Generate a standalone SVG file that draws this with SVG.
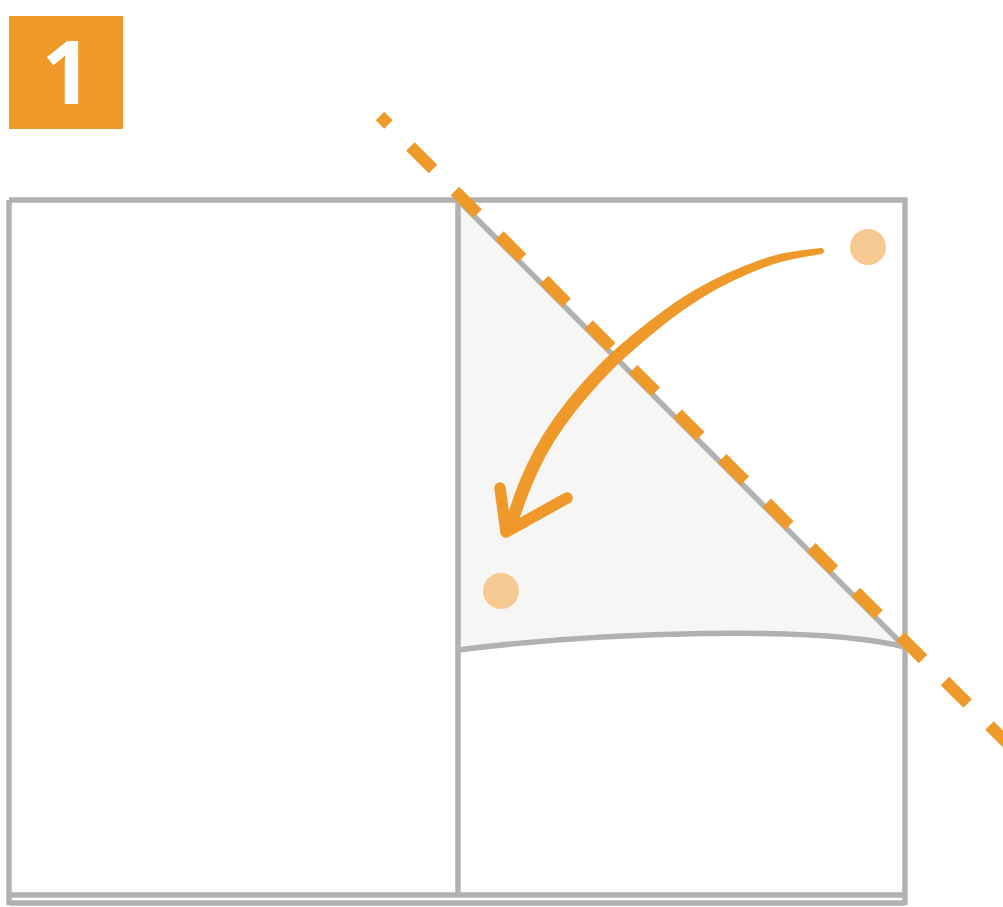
<svg xmlns="http://www.w3.org/2000/svg" width="1003" height="907" viewBox="0 0 1003 907">
<style>
.frame{fill:none;stroke:#b1b1b1;stroke-width:5.5}
.orange{fill:#f0992b}
.dot{fill:#f6c993}
</style>
<rect width="1003" height="907" fill="#ffffff"/>
<g id="badge">
<rect x="9" y="16" width="114" height="113" class="orange"/>
<text x="67" y="104" text-anchor="middle" font-family="'Open Sans', 'DejaVu Sans', sans-serif" font-weight="700" font-size="88" fill="#ffffff">1</text>
</g>
<g id="sheet">
<path d="M458,200 L905,647 C820,625 600,632 458,650 Z" fill="#f6f6f4"/>
<path class="frame" d="M9,200 H905 V905 M9,200 V905 M458,200 V895 M9,895 H905"/>
<path class="frame" d="M9,903 H905" stroke-width="4"/>
<path class="frame" d="M458,200 L905,647"/>
<path class="frame" d="M458,650 C600,632 820,625 905,647" stroke-width="4.5"/>
</g>
<g id="dots">
<circle cx="868" cy="247" r="18" class="dot"/>
<circle cx="501" cy="591" r="18" class="dot"/>
</g>
<g id="connectors">
<line x1="380" y1="116" x2="1015" y2="751" stroke="#f0992b" stroke-width="12" stroke-dasharray="32 31" stroke-dashoffset="20"/>
<path class="orange" d="M820.6,248 L799.8,250.55 Q779,253.1 761.15,259.45 Q743.3,265.8 726.95,273.2 Q710.6,280.6 693.75,290.55 Q676.9,300.5 661.6,311.9 Q646.3,323.3 631.05,335.85 Q615.8,348.4 603,361 Q590.2,373.6 577.55,388.3 Q564.9,403 553.7,418.8 Q542.5,434.6 534.3,449.9 Q526.1,465.2 520,480 Q513.9,494.8 509.1,510.5 L504.3,526.2 L504,532 L516,532 L515.7,529.8 L520.9,514.5 Q526.1,499.2 532,485 Q537.9,470.8 545.7,456.1 Q553.5,441.4 564.3,426.2 Q575.1,411 587.45,396.7 Q599.8,382.4 612,370 Q624.2,357.6 639,345.15 Q653.8,332.7 668.45,321.1 Q683.1,309.5 699.25,299.45 Q715.4,289.4 731.05,281.8 Q746.7,274.2 763.85,267.55 Q781,260.9 801.2,257.45 L821.4,254 A3,3 0 0 0 820.6,248 Z"/>
<path d="M500,488 L506,532 L567,498" fill="none" stroke="#f0992b" stroke-width="11.5" stroke-linecap="round" stroke-linejoin="round"/>
</g>
</svg>
